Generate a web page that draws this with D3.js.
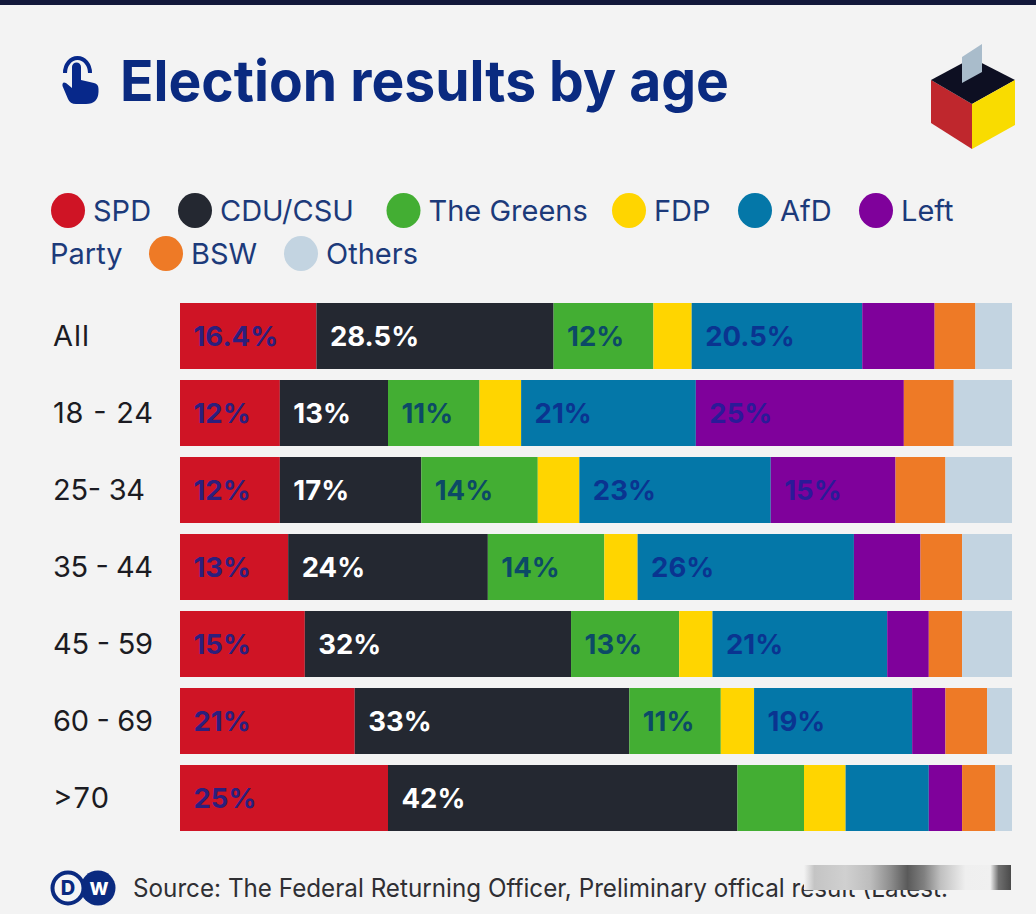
<!DOCTYPE html>
<html><head><meta charset="utf-8">
<script src="https://cdn.jsdelivr.net/npm/d3@7/dist/d3.min.js"></script>
<style>html,body{margin:0;padding:0;background:#f3f3f3;overflow:hidden}svg{display:block}text{font-family:"Inter","Noto Sans",sans-serif}</style>
</head><body><svg id="c" width="1036" height="914"></svg>
<script>
const parties = ["SPD","CDU/CSU","The Greens","FDP","AfD","Left Party","BSW","Others"];
const partyColors = ["#cf1425","#242831","#43ae33","#ffd500","#0477a8","#7f019b","#ee7a26","#c3d4e1"];
const labelInk = ["#2c1f7d","#ffffff","#0c4a66","#16307f","#0a3490","#2b1a98","#16307f","#16307f"];
const ageGroups = ["All","18 - 24","25- 34","35 - 44","45 - 59","60 - 69",">70"];
const seriesSPD = [16.4,12,12,13,15,21,25];
const seriesCDU = [28.5,13,17,24,32,33,42];
const seriesGreens = [12,11,14,14,13,11,8];
const seriesFDP = [4.6,5,5,4,4,4,5];
const seriesAfD = [20.5,21,23,26,21,19,10];
const seriesLeft = [8.7,25,15,8,5,4,4];
const seriesBSW = [4.9,6,6,5,4,5,4];
const seriesOthers = [4.4,7,8,6,6,3,2];
const labelSPD = ["16.4%","12%","12%","13%","15%","21%","25%"];
const labelCDU = ["28.5%","13%","17%","24%","32%","33%","42%"];
const labelGreens = ["12%","11%","14%","14%","13%","11%",""];
const labelAfD = ["20.5%","21%","23%","26%","21%","19%",""];
const labelLeft = ["","25%","15%","","","",""];
const allSeries = [seriesSPD,seriesCDU,seriesGreens,seriesFDP,seriesAfD,seriesLeft,seriesBSW,seriesOthers];
const allLabels = [labelSPD,labelCDU,labelGreens,null,labelAfD,labelLeft,null,null];

const svg = d3.select("#c");
const ink = "#07288a";
const x = d3.scaleLinear().domain([0,100]).range([180,1012]);
const y = d3.scaleBand().domain(ageGroups).range([303,831]).paddingInner(0.1429).paddingOuter(0);

// top rule
svg.append("rect").attr("x",0).attr("y",0).attr("width",1036).attr("height",5).attr("fill","#12183a");

// title
svg.append("text").attr("x",120).attr("y",101).attr("font-size",56).attr("font-weight",700).attr("fill","#0a2a80").attr("textLength",609).attr("lengthAdjust","spacingAndGlyphs").text("Election results by age");

// hand icon
const hand = svg.append("g");
hand.append("path").attr("fill","none").attr("stroke",ink).attr("stroke-width",4).attr("d","M65,73 A12.5,15 0 1 1 90,73");
hand.append("path").attr("fill",ink).attr("d","M72,67 a4.5,4.5 0 0 1 9,0 V80 L94,83 Q98.500,84 98.500,89 V92 Q98,104 86,104 H76 Q70,104 68,99 L62.500,86 Q62,81 66,83 L72,88 Z");

// ballot box
const box = svg.append("g");
box.append("path").attr("d","M931,80 L972,104 L972,149 L931,123 Z").attr("fill","#bf272d");
box.append("path").attr("d","M931,80 L972,58 L1015,80 L972,104 Z").attr("fill","#0d0f22");
box.append("path").attr("d","M972,104 L1015,80 L1015,125 L972,149 Z").attr("fill","#f9dc00");
box.append("path").attr("d","M962,57 L982,44 L982,72 L962,83 Z").attr("fill","#a9bccb");

// legend
const legendPos = [[68,210.5],[195,210.5],[403.5,210.5],[629,210.5],[755,210.5],[876,210.5],[166,253.5],[301,253.5]];
const legendText = ["SPD","CDU/CSU","The Greens","FDP","AfD","Left","BSW","Others"];
const lg = svg.selectAll("g.leg").data(parties).join("g").attr("class","leg");
lg.append("ellipse").attr("cx",(d,i)=>legendPos[i][0]).attr("cy",(d,i)=>legendPos[i][1]).attr("rx",17).attr("ry",17.5).attr("fill",(d,i)=>partyColors[i]);
lg.append("text").attr("x",(d,i)=>legendPos[i][0]+25).attr("y",(d,i)=>legendPos[i][1]+10.5).attr("font-size",29).attr("fill","#1c3a7a").text((d,i)=>legendText[i]);
svg.append("text").attr("x",50).attr("y",264).attr("font-size",29).attr("fill","#1c3a7a").text("Party");

// row labels
const rowLabelWidths = [36,100,92,100,100,100,56];
svg.selectAll("text.row").data(ageGroups).join("text").attr("class","row").attr("x",53).attr("y",d=>y(d)+y.bandwidth()/2).attr("dy","0.35em").attr("font-size",29).attr("textLength",(d,i)=>rowLabelWidths[i]).attr("lengthAdjust","spacing").attr("fill","#1b1b22").text(d=>d);

// bars
const stacks = ageGroups.map((g,r)=>{let c=0;return allSeries.map((s,k)=>{const o={g,k,x0:c,x1:c+s[r],label:allLabels[k]?allLabels[k][r]:""};c+=s[r];return o;});}).flat();
svg.selectAll("rect.seg").data(stacks).join("rect").attr("class","seg").attr("x",d=>x(d.x0)).attr("width",d=>x(d.x1)-x(d.x0)).attr("y",d=>y(d.g)).attr("height",y.bandwidth()).attr("fill",d=>partyColors[d.k]);
svg.selectAll("text.val").data(stacks.filter(d=>d.label)).join("text").attr("class","val").attr("x",d=>x(d.x0)+13.5).attr("y",d=>y(d.g)+y.bandwidth()/2).attr("dy","0.35em").attr("font-size",27.5).attr("font-weight",700).attr("fill",d=>labelInk[d.k]).text(d=>d.label);

// footer
const dw = svg.append("g");
dw.append("circle").attr("cx",98).attr("cy",888).attr("r",17.5).attr("fill","#0a2a80");
dw.append("circle").attr("cx",68).attr("cy",888).attr("r",15.5).attr("fill","#f5f5f5").attr("stroke","#0a2a80").attr("stroke-width",4);
dw.append("text").attr("x",68).attr("y",895).attr("text-anchor","middle").attr("font-size",20).attr("font-weight",800).attr("fill","#0a2a80").text("D");
dw.append("text").attr("x",99).attr("y",895).attr("text-anchor","middle").attr("font-size",18).attr("font-weight",800).attr("fill","#fff").text("W");
svg.append("text").attr("x",133).attr("y",897).attr("font-size",25).attr("fill","#2f2f33").attr("textLength",815).attr("lengthAdjust","spacingAndGlyphs").text("Source: The Federal Returning Officer, Preliminary offical result (Latest.");

// blurred watermark strip over the end of the source line
const smear = [[0,"#f3f3f3"],[0.05,"#c4c4c4"],[0.2,"#d0d0d0"],[0.32,"#bdbdbd"],[0.42,"#8c8c8c"],[0.5,"#5a5a5a"],[0.58,"#808080"],[0.66,"#c0c0c0"],[0.78,"#efefef"],[0.9,"#f0f0f0"],[0.94,"#707070"],[1,"#4a4a4a"]];
const grad = svg.append("defs").append("linearGradient").attr("id","smear");
grad.selectAll("stop").data(smear).join("stop").attr("offset",d=>d[0]).attr("stop-color",d=>d[1]);
svg.append("rect").attr("x",804).attr("y",865).attr("width",207).attr("height",25).attr("fill","url(#smear)");
</script></body></html>
